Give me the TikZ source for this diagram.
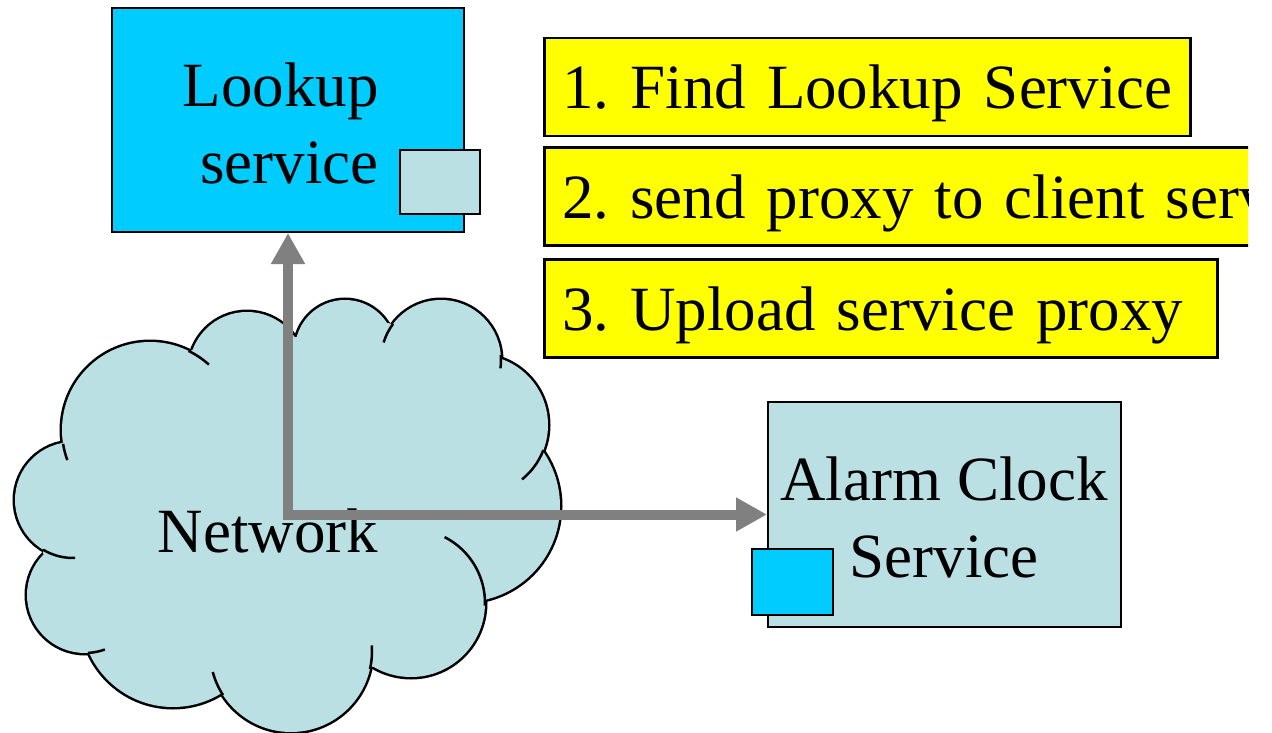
\documentclass[tikz,border=0pt]{standalone}
\usepackage{fontspec}
\setmainfont{Liberation Serif}
\usetikzlibrary{arrows.meta}

\definecolor{servicecyan}{RGB}{0,204,255}
\definecolor{proxyblue}{RGB}{187,224,227}
\definecolor{stepyellow}{RGB}{255,255,0}
\definecolor{arrowgray}{RGB}{128,128,128}

\begin{document}
\begin{tikzpicture}[x=1pt,y=-1pt,
  bigtext/.style={font=\fontsize{63}{77}\selectfont, inner sep=0pt},
  servicebox/.style={draw=black, line width=2pt, inner sep=0pt},
  stepbox/.style={draw=black, line width=2.5pt, fill=stepyellow,
    minimum height=98pt, inner xsep=18pt, inner ysep=0pt,
    text height=52pt, text depth=8pt, align=left, anchor=west,
    font=\fontsize{63}{77}\selectfont\frenchspacing},
  cloudedge/.style={draw=black, line width=5pt},
  cloudtick/.style={draw=black, line width=2.5pt},
  connector/.style={draw=arrowgray, line width=10pt, line join=miter,
    arrows={Triangle[length=31pt,width=32pt]-Triangle[length=31pt,width=32pt]}}
]
\useasboundingbox (0,0) rectangle (1272,733);

% network cloud: union of lobes, outline first, then the fill on top
\foreach \cx/\cy/\r in {150/430/88, 73/500/58, 85/595/58, 173/615/92,
    291/651/81, 411/603/74, 464/506/96, 478/425/70, 441/360/60,
    345/350/50, 247/370/58}
  \path[cloudedge] (\cx,\cy) circle[radius=\r];
\fill[proxyblue] (192,350) -- (296,337) -- (388,323) -- (498,357) -- (544,453)
  -- (485,603) -- (372,667) -- (222,693) -- (90,653) -- (43,553) -- (63,445) -- cycle;
\foreach \cx/\cy/\r in {150/430/88, 73/500/58, 85/595/58, 173/615/92,
    291/651/81, 411/603/74, 464/506/96, 478/425/70, 441/360/60,
    345/350/50, 247/370/58}
  \fill[proxyblue] (\cx,\cy) circle[radius=\r];
% inner ends of the lobe arcs
\foreach \cx/\cy/\r/\a/\b in {150/430/88/171/160, 73/500/58/121/88,
    85/595/58/87/70, 291/651/81/147/165, 291/651/81/13/-4,
    411/603/74/2/-63, 478/425/70/21/51, 441/360/60/-5/8,
    441/360/60/217/197, 150/430/88/-64/-48}
  \draw[cloudtick] (\cx,\cy) ++(\a:\r) arc[start angle=\a, end angle=\b, radius=\r];
\node[bigtext, anchor=base] (network) at (268,552) {Network};

% lookup service
\node[servicebox, fill=servicecyan, minimum width=352pt, minimum height=224pt]
  (lookup) at (288,120) {};
\node[bigtext, align=right, anchor=base east] (lookuplabel) at (379,183) {Lookup\\service};
\node[servicebox, fill=proxyblue, minimum width=80pt, minimum height=64pt]
  (lookupproxy) at (440,182) {};

% alarm clock service
\node[servicebox, fill=proxyblue, minimum width=353pt, minimum height=225pt]
  (alarm) at (944.5,514.5) {};
\node[servicebox, fill=servicecyan, minimum width=81pt, minimum height=66pt]
  (alarmproxy) at (792.5,582) {};
\node[bigtext, align=center, anchor=base] (alarmlabel) at (944,577) {Alarm Clock\\Service};

% steps
\node[stepbox, minimum width=646pt, text width=610pt] (step1) at (543,87)
  {\mbox{1. Find Lookup Service}};
\begin{scope}
  \clip (0,0) rectangle (1248,733);
  \node[stepbox, minimum width=900pt, text width=864pt] (step2) at (543,196.5)
    {\mbox{2. send proxy to client service}};
\end{scope}
\node[stepbox, minimum width=673pt, text width=637pt] (step3) at (543,308.5)
  {\mbox{3. Upload service proxy}};

% connectors through the network
\coordinate (bend) at (lookup.south |- alarm.west);
\draw[connector] (lookup.south) -- (bend) -- (alarm.west);
\end{tikzpicture}
\end{document}
